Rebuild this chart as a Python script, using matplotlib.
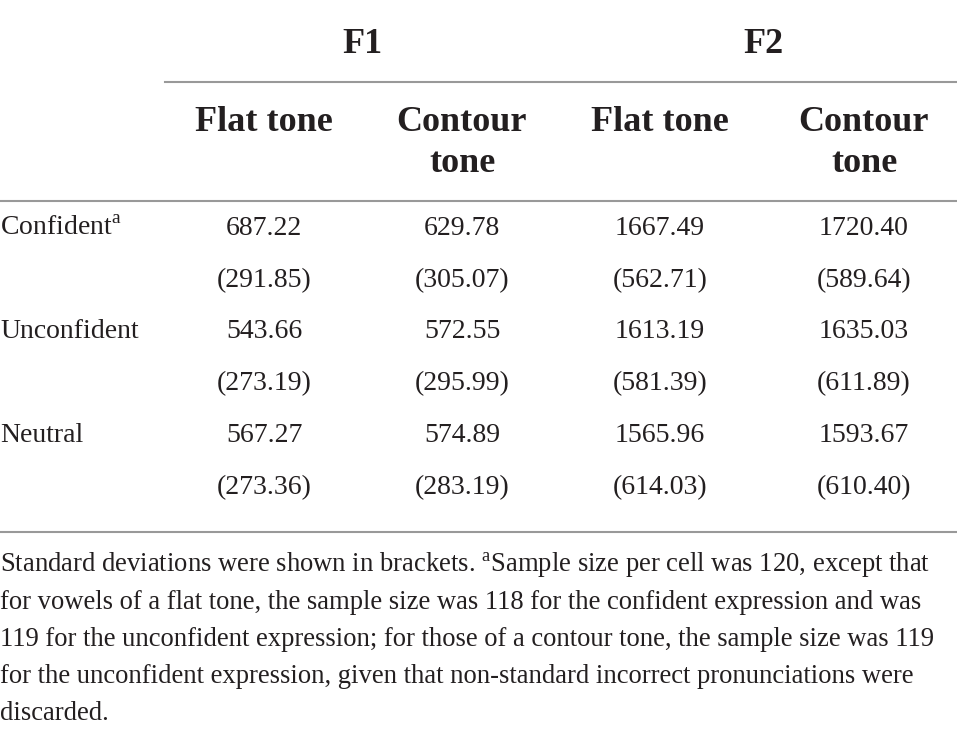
import matplotlib
matplotlib.use("Agg")
import matplotlib.pyplot as plt

plt.rcParams['font.family'] = ['Liberation Serif', 'DejaVu Serif']
plt.rcParams['mathtext.fontset'] = 'custom'
plt.rcParams['mathtext.rm'] = 'Liberation Serif'

# data
groups = ["F1", "F2"]
tones = [["Flat tone"], ["Contour", "tone"], ["Flat tone"], ["Contour", "tone"]]
conditions = ["Confident$^{\\mathrm{a}}$", "Unconfident", "Neutral"]
means = [
    [687.22, 629.78, 1667.49, 1720.40],
    [543.66, 572.55, 1613.19, 1635.03],
    [567.27, 574.89, 1565.96, 1593.67],
]
sds = [
    [291.85, 305.07, 562.71, 589.64],
    [273.19, 295.99, 581.39, 611.89],
    [273.36, 283.19, 614.03, 610.40],
]
footnote = [
    "Standard deviations were shown in brackets. $^{\\mathrm{a}}$Sample size per cell was 120, except that",
    "for vowels of a flat tone, the sample size was 118 for the confident expression and was",
    "119 for the unconfident expression; for those of a contour tone, the sample size was 119",
    "for the unconfident expression, given that non-standard incorrect pronunciations were",
    "discarded.",
]

W, H = 957, 735
fig = plt.figure(figsize=(W / 100, H / 100), dpi=100)
ax = fig.add_axes([0, 0, 1, 1])
ax.set_xlim(0, W)
ax.set_ylim(H, 0)
ax.axis('off')

txt = '#231f20'
line_c = '#999999'
col_x = [264, 462, 660, 864]
group_x = [362, 763]

# group headers
for g, x in zip(groups, group_x):
    ax.text(x, 53, g, ha='center', va='baseline', fontsize=26, fontweight='bold', color=txt)
ax.plot([165, W], [82, 82], color=line_c, lw=1.5)

# tone headers
for t, x in zip(tones, col_x):
    for k, part in enumerate(t):
        ax.text(x, 131 + 41 * k, part, ha='center', va='baseline', fontsize=26,
                fontweight='bold', color=txt)
ax.plot([0, W], [201, 201], color=line_c, lw=1.5)

# body: mean and (sd) per condition
row_base = [235, 338, 442]
for i, (c, y) in enumerate(zip(conditions, row_base)):
    ax.text(0, y, c, ha='left', va='baseline', fontsize=20, color=txt)
    for j, x in enumerate(col_x):
        ax.text(x, y, f"{means[i][j]:.2f}", ha='center', va='baseline', fontsize=20, color=txt)
        ax.text(x, y + 52, f"({sds[i][j]:.2f})", ha='center', va='baseline', fontsize=20, color=txt)
ax.plot([0, W], [532, 532], color=line_c, lw=1.5)

# footnote
for k, ln in enumerate(footnote):
    ax.text(0, 572 + k * 37, ln, ha='left', va='baseline', fontsize=19.2, color=txt)

fig.savefig("out.png", dpi=100, facecolor='white')
